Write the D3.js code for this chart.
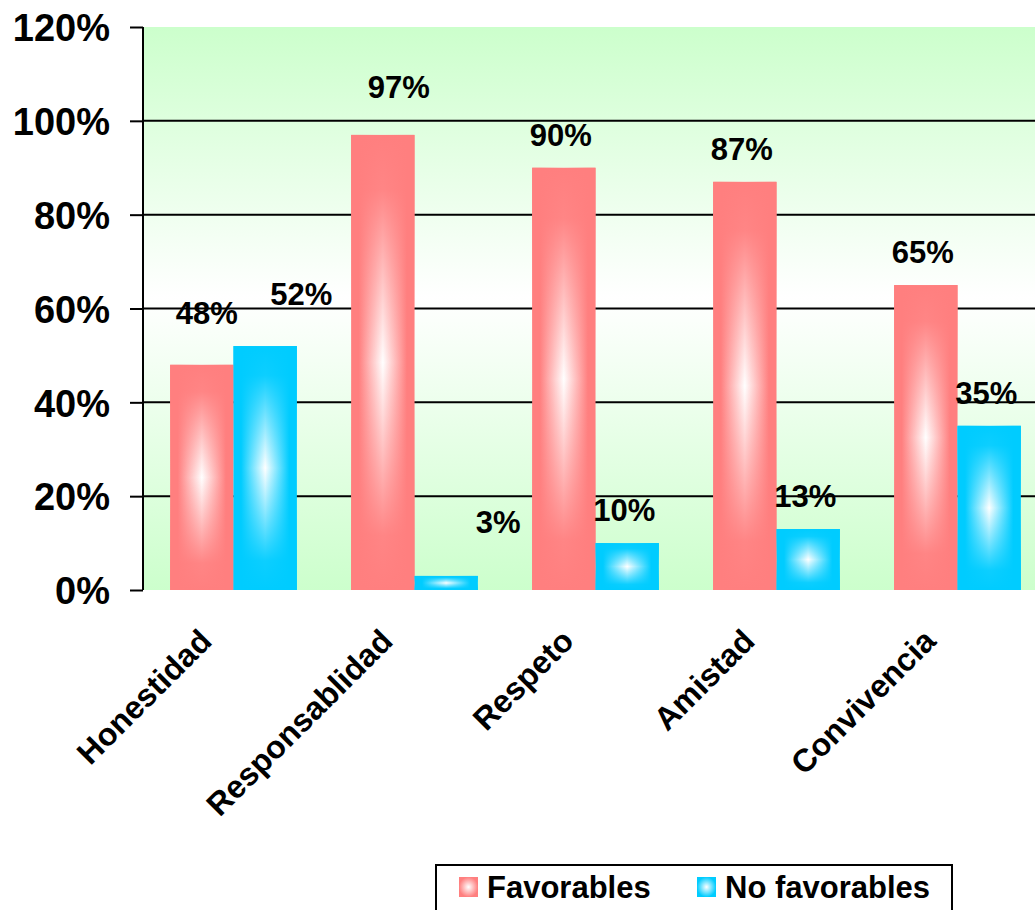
<!DOCTYPE html>
<html>
<head>
<meta charset="utf-8">
<script src="https://cdn.jsdelivr.net/npm/d3@7"></script>
<style>
  html, body { margin: 0; padding: 0; background: #fff; }
  svg { display: block; }
  text { font-family: "Liberation Sans", Arial, sans-serif; font-weight: bold; fill: #000; }
</style>
</head>
<body>
<svg id="chart" width="1035" height="910"></svg>
<script>
// ---- data ----
const categories = ["Honestidad", "Responsablidad", "Respeto", "Amistad", "Convivencia"];
const seriesNames = ["Favorables", "No favorables"];
const favorables = [0.48, 0.97, 0.90, 0.87, 0.65];
const noFavorables = [0.52, 0.03, 0.10, 0.13, 0.35];
const yTicks = [0, 0.2, 0.4, 0.6, 0.8, 1.0, 1.2];

// ---- layout / style ----
const W = 1035, H = 910;
const plot = { left: 143, right: 1048, top: 27, bottom: 590 };
const colors = { "Favorables": "#ff7f7f", "No favorables": "#00ccff" };
// manual label placement tweaks (as in the original chart)
const labelNudge = {
  "Honestidad|Favorables": [8, -19],
  "Honestidad|No favorables": [39, -19],
  "Responsablidad|Favorables": [19, -15],
  "Responsablidad|No favorables": [55, -21]
};

const svg = d3.select("#chart");
const defs = svg.append("defs");

// plot background gradient: green - white - green
const bg = defs.append("linearGradient").attr("id", "bgGrad")
  .attr("x1", 0).attr("y1", 0).attr("x2", 0).attr("y2", 1);
bg.append("stop").attr("offset", "0%").attr("stop-color", "#ccffcc");
bg.append("stop").attr("offset", "48%").attr("stop-color", "#ffffff");
bg.append("stop").attr("offset", "100%").attr("stop-color", "#ccffcc");

// bar gradients
seriesNames.forEach((s, i) => {
  const c = colors[s];
  const h = defs.append("linearGradient").attr("id", "h" + i)
    .attr("x1", 0).attr("y1", 0).attr("x2", 1).attr("y2", 0);
  h.append("stop").attr("offset", "0%").attr("stop-color", c);
  h.append("stop").attr("offset", "12%").attr("stop-color", c);
  h.append("stop").attr("offset", "50%").attr("stop-color", "#ffffff");
  h.append("stop").attr("offset", "88%").attr("stop-color", c);
  h.append("stop").attr("offset", "100%").attr("stop-color", c);
  const v = defs.append("linearGradient").attr("id", "v" + i)
    .attr("x1", 0).attr("y1", 0).attr("x2", 0).attr("y2", 1);
  v.append("stop").attr("offset", "0%").attr("stop-color", c).attr("stop-opacity", 1);
  v.append("stop").attr("offset", "12%").attr("stop-color", c).attr("stop-opacity", 0.95);
  v.append("stop").attr("offset", "50%").attr("stop-color", c).attr("stop-opacity", 0);
  v.append("stop").attr("offset", "88%").attr("stop-color", c).attr("stop-opacity", 0.95);
  v.append("stop").attr("offset", "100%").attr("stop-color", c).attr("stop-opacity", 1);
});

// scales
const y = d3.scaleLinear().domain([0, 1.2]).range([plot.bottom, plot.top]);
const x0 = d3.scaleBand().domain(categories).range([plot.left, plot.right])
  .paddingInner(0.3).paddingOuter(0.15);
const x1 = d3.scaleBand().domain(seriesNames).range([0, x0.bandwidth()]).padding(0);

// background
svg.append("rect")
  .attr("x", plot.left).attr("y", plot.top)
  .attr("width", plot.right - plot.left).attr("height", plot.bottom - plot.top)
  .attr("fill", "url(#bgGrad)");

// gridlines
svg.append("g").selectAll("line")
  .data(yTicks.filter(t => t > 0 && t < 1.2))
  .join("line")
  .attr("x1", plot.left).attr("x2", plot.right)
  .attr("y1", d => y(d)).attr("y2", d => y(d))
  .attr("stroke", "#000").attr("stroke-width", 2);

// y axis
const yAxis = d3.axisLeft(y).tickValues(yTicks).tickFormat(d3.format(".0%"))
  .tickSize(13).tickPadding(20);
const gy = svg.append("g").attr("transform", `translate(${plot.left},0)`).call(yAxis);
gy.select(".domain").attr("stroke", "#000").attr("stroke-width", 2)
  .attr("d", `M0,${plot.top}V${plot.bottom}`);
gy.selectAll(".tick line").attr("stroke", "#000").attr("stroke-width", 2);
gy.selectAll(".tick text").attr("font-size", 38).attr("font-weight", "bold")
  .attr("font-family", "Liberation Sans, Arial, sans-serif").attr("fill", "#000")
  .attr("dy", "0.36em");

// bars
const rows = categories.map((c, i) => ({
  cat: c,
  vals: [
    { s: seriesNames[0], si: 0, v: favorables[i], cat: c },
    { s: seriesNames[1], si: 1, v: noFavorables[i], cat: c }
  ]
}));
const groups = svg.append("g").selectAll("g").data(rows).join("g")
  .attr("transform", d => `translate(${x0(d.cat)},0)`);
groups.selectAll("rect.hb").data(d => d.vals).join("rect").attr("class", "hb")
  .attr("x", d => x1(d.s)).attr("y", d => y(d.v))
  .attr("width", x1.bandwidth()).attr("height", d => y(0) - y(d.v))
  .attr("fill", d => `url(#h${d.si})`);
groups.selectAll("rect.vb").data(d => d.vals).join("rect").attr("class", "vb")
  .attr("x", d => x1(d.s)).attr("y", d => y(d.v))
  .attr("width", x1.bandwidth()).attr("height", d => y(0) - y(d.v))
  .attr("fill", d => `url(#v${d.si})`);

// value labels
groups.selectAll("text.val").data(d => d.vals).join("text").attr("class", "val")
  .attr("x", d => x1(d.s) + x1.bandwidth() / 2 - 3 + (labelNudge[d.cat + "|" + d.s] || [0, 0])[0])
  .attr("y", d => y(d.v) - 22 + (labelNudge[d.cat + "|" + d.s] || [0, 0])[1])
  .attr("text-anchor", "middle").attr("font-size", 31)
  .text(d => d3.format(".0%")(d.v));

// category labels
svg.append("g").selectAll("text").data(categories).join("text")
  .attr("transform", d => `translate(${x0(d) + x0.bandwidth() / 2 - 20},${plot.bottom + 53}) rotate(-45)`)
  .attr("text-anchor", "end").attr("font-size", 32)
  .text(d => d);

// legend
const lg = svg.append("g");
lg.append("rect").attr("x", 436).attr("y", 865).attr("width", 516).attr("height", 70)
  .attr("fill", "#fff").attr("stroke", "#000").attr("stroke-width", 2);
const legendDefs = seriesNames.map((s, i) => {
  const g = defs.append("radialGradient").attr("id", "lg" + i);
  g.append("stop").attr("offset", "0%").attr("stop-color", "#fff");
  g.append("stop").attr("offset", "100%").attr("stop-color", colors[s]);
  return "url(#lg" + i + ")";
});
const items = lg.selectAll("g").data(seriesNames).join("g")
  .attr("transform", (d, i) => `translate(${i === 0 ? 459 : 697},877)`);
items.append("rect").attr("width", 19).attr("height", 20)
  .attr("fill", (d, i) => legendDefs[i]);
items.append("text").attr("x", 28).attr("y", 21).attr("font-size", 31).text(d => d);
</script>
</body>
</html>
